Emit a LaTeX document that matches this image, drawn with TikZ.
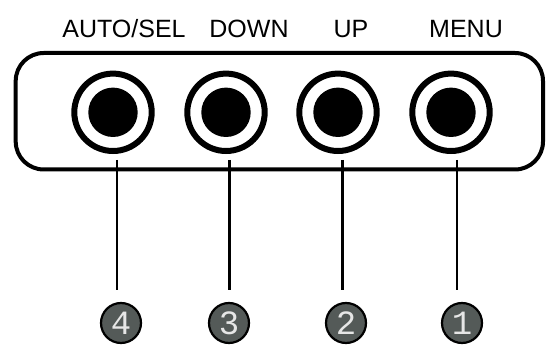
\documentclass[tikz,border=0pt]{standalone}
\usepackage{fontspec}
\setmainfont{Liberation Sans}
\newfontfamily\digitfont{Liberation Mono}
\usetikzlibrary{positioning, calc}
\definecolor{badge}{HTML}{545A58}
\definecolor{badgetext}{HTML}{E6E6E6}

\begin{document}
\begin{tikzpicture}[
    x=1pt, y=-1pt,
    casing/.style={draw, line width=4pt, rounded corners=28pt},
    ring/.style={
      circle, draw, line width=6pt, minimum size=77.4pt, inner sep=0pt
    },
    disc/.style={circle, fill=black, minimum size=49.4pt, inner sep=0pt},
    lead/.style={line width=2.8pt, shorten >=12pt},
    badgenode/.style={
      circle, draw, line width=2.2pt, fill=badge, minimum size=40pt,
      inner sep=0pt, text=badgetext, font=\digitfont\fontsize{34}{34}\selectfont
    },
    lbl/.style={anchor=base, font=\fontsize{25}{29}\selectfont}
  ]
  \useasboundingbox (0,0) rectangle (546,347);

  % Gehaeuse
  \draw[casing] (15.7,53) rectangle (543,169.5);

  % Tasten
  \node[ring] (r4) at (113,112.3) {};
  \node[ring] (r3) at (226,112.3) {};
  \node[ring] (r2) at (338,112.3) {};
  \node[ring] (r1) at (451,112.3) {};
  \node[disc] (k4) at (r4) {};
  \node[disc] (k3) at (r3) {};
  \node[disc] (k2) at (r2) {};
  \node[disc] (k1) at (r1) {};

  % Beschriftung oben
  \node[lbl] (t4) at (124,37.3) {AUTO/SEL};
  \node[lbl] (t3) at (249,37.3) {DOWN};
  \node[lbl] (t2) at (351,37.3) {UP};
  \node[lbl] (t1) at (466,37.3) {MENU};

  % Nummern
  \node[badgenode] (n4) at (121,323) {4};
  \node[badgenode] (n3) at (229,323) {3};
  \node[badgenode] (n2) at (346,323) {2};
  \node[badgenode] (n1) at (462,323) {1};

  % Zuleitungen (beginnen knapp unter dem Ring)
  \coordinate (c4) at (117,160);
  \coordinate (c3) at (229.3,160);
  \coordinate (c2) at (342.3,160);
  \coordinate (c1) at (457,160);
  \draw[lead] (c4) -- (c4 |- n4.north);
  \draw[lead] (c3) -- (c3 |- n3.north);
  \draw[lead] (c2) -- (c2 |- n2.north);
  \draw[lead] (c1) -- (c1 |- n1.north);

\end{tikzpicture}
\end{document}
